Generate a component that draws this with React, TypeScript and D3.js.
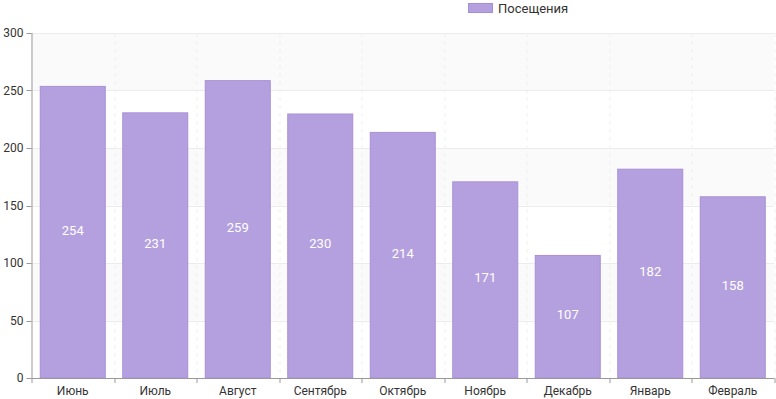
import { useEffect, useRef } from 'react';
import * as d3 from 'd3';

const months = ['Июнь', 'Июль', 'Август', 'Сентябрь', 'Октябрь', 'Ноябрь', 'Декабрь', 'Январь', 'Февраль'];
const visits = [254, 231, 259, 230, 214, 171, 107, 182, 158];
const yTicks = [0, 50, 100, 150, 200, 250, 300];
const seriesName = 'Посещения';

const width = 776;
const height = 399;

const App = () => {
  const svgRef = useRef<SVGSVGElement | null>(null);

  useEffect(() => {
    if (!svgRef.current) return;
    const svg = d3.select(svgRef.current);
    svg.selectAll('*').remove();

    const margin = { top: 33, right: 2, bottom: 21, left: 31.5 };
    const innerWidth = width - margin.left - margin.right;
    const innerHeight = height - margin.top - margin.bottom;
    const font = 'Roboto, sans-serif';

    const x = d3.scaleBand<string>().domain(months).range([0, innerWidth]).paddingInner(0.2).paddingOuter(0.1);
    const y = d3.scaleLinear().domain([0, 300]).range([innerHeight, 0]);
    const step = x.step();

    const g = svg.append('g').attr('transform', `translate(${margin.left},${margin.top})`);

    // alternating background bands
    for (let i = 0; i < yTicks.length - 1; i++) {
      if ((yTicks.length - 2 - i) % 2 === 0) {
        g.append('rect')
          .attr('x', 0)
          .attr('y', y(yTicks[i + 1]))
          .attr('width', innerWidth)
          .attr('height', y(yTicks[i]) - y(yTicks[i + 1]))
          .attr('fill', '#fafafa');
      }
    }

    // horizontal grid
    g.selectAll('.hgrid')
      .data(yTicks)
      .enter()
      .append('line')
      .attr('x1', 0)
      .attr('x2', innerWidth)
      .attr('y1', d => Math.round(y(d)) + 0.5)
      .attr('y2', d => Math.round(y(d)) + 0.5)
      .attr('stroke', '#ececec');

    // vertical dashed grid at category boundaries
    g.selectAll('.vgrid')
      .data(d3.range(1, months.length + 1))
      .enter()
      .append('line')
      .attr('x1', d => Math.round(d * step) + 0.5)
      .attr('x2', d => Math.round(d * step) + 0.5)
      .attr('y1', 0)
      .attr('y2', innerHeight)
      .attr('stroke', '#f0f0f0')
      .attr('stroke-dasharray', '4,4');

    // bars
    g.selectAll('.bar')
      .data(visits)
      .enter()
      .append('rect')
      .attr('x', (d, i) => x(months[i])! + 0.5)
      .attr('y', d => y(d) + 0.5)
      .attr('width', x.bandwidth() - 1)
      .attr('height', d => innerHeight - y(d) - 0.5)
      .attr('fill', '#b5a0df')
      .attr('stroke', '#a78fd6')
      .attr('stroke-width', 1);

    // value labels
    g.selectAll('.val')
      .data(visits)
      .enter()
      .append('text')
      .attr('x', (d, i) => x(months[i])! + x.bandwidth() / 2)
      .attr('y', d => (y(d) + innerHeight) / 2 - 2)
      .attr('dy', '0.35em')
      .attr('text-anchor', 'middle')
      .attr('fill', '#ffffff')
      .style('font-family', font)
      .style('font-size', '13px')
      .text(d => d);

    // y axis
    g.append('line')
      .attr('x1', 0.5).attr('x2', 0.5)
      .attr('y1', 0).attr('y2', innerHeight)
      .attr('stroke', '#999');
    g.selectAll('.ytick')
      .data(yTicks)
      .enter()
      .append('line')
      .attr('x1', -5).attr('x2', 0)
      .attr('y1', d => Math.round(y(d)) + 0.5)
      .attr('y2', d => Math.round(y(d)) + 0.5)
      .attr('stroke', '#999');
    g.selectAll('.ylab')
      .data(yTicks)
      .enter()
      .append('text')
      .attr('x', -8)
      .attr('y', d => y(d))
      .attr('dy', '0.35em')
      .attr('text-anchor', 'end')
      .attr('fill', '#333')
      .style('font-family', font)
      .style('font-size', '12px')
      .text(d => d);

    // x axis
    g.append('line')
      .attr('x1', 0).attr('x2', innerWidth)
      .attr('y1', innerHeight + 0.5).attr('y2', innerHeight + 0.5)
      .attr('stroke', '#999');
    g.selectAll('.xtick')
      .data(d3.range(0, months.length + 1))
      .enter()
      .append('line')
      .attr('x1', d => Math.round(d * step) + 0.5)
      .attr('x2', d => Math.round(d * step) + 0.5)
      .attr('y1', innerHeight)
      .attr('y2', innerHeight + 5)
      .attr('stroke', '#999');
    g.selectAll('.xlab')
      .data(months)
      .enter()
      .append('text')
      .attr('x', d => x(d)! + x.bandwidth() / 2)
      .attr('y', innerHeight + 17)
      .attr('text-anchor', 'middle')
      .attr('fill', '#333')
      .style('font-family', font)
      .style('font-size', '12px')
      .text(d => d);

    // legend
    const legend = svg.append('g').attr('transform', 'translate(468,3)');
    legend.append('rect')
      .attr('x', 0.5).attr('y', 0.5)
      .attr('width', 24).attr('height', 9)
      .attr('fill', '#b5a0df')
      .attr('stroke', '#a78fd6');
    legend.append('text')
      .attr('x', 30)
      .attr('y', 5)
      .attr('dy', '0.35em')
      .attr('fill', '#333')
      .style('font-family', font)
      .style('font-size', '13px')
      .text(seriesName);
  }, []);

  return <svg ref={svgRef} width={width} height={height} style={{ position: 'absolute', left: 0, top: 0 }} />;
};

export default App;
